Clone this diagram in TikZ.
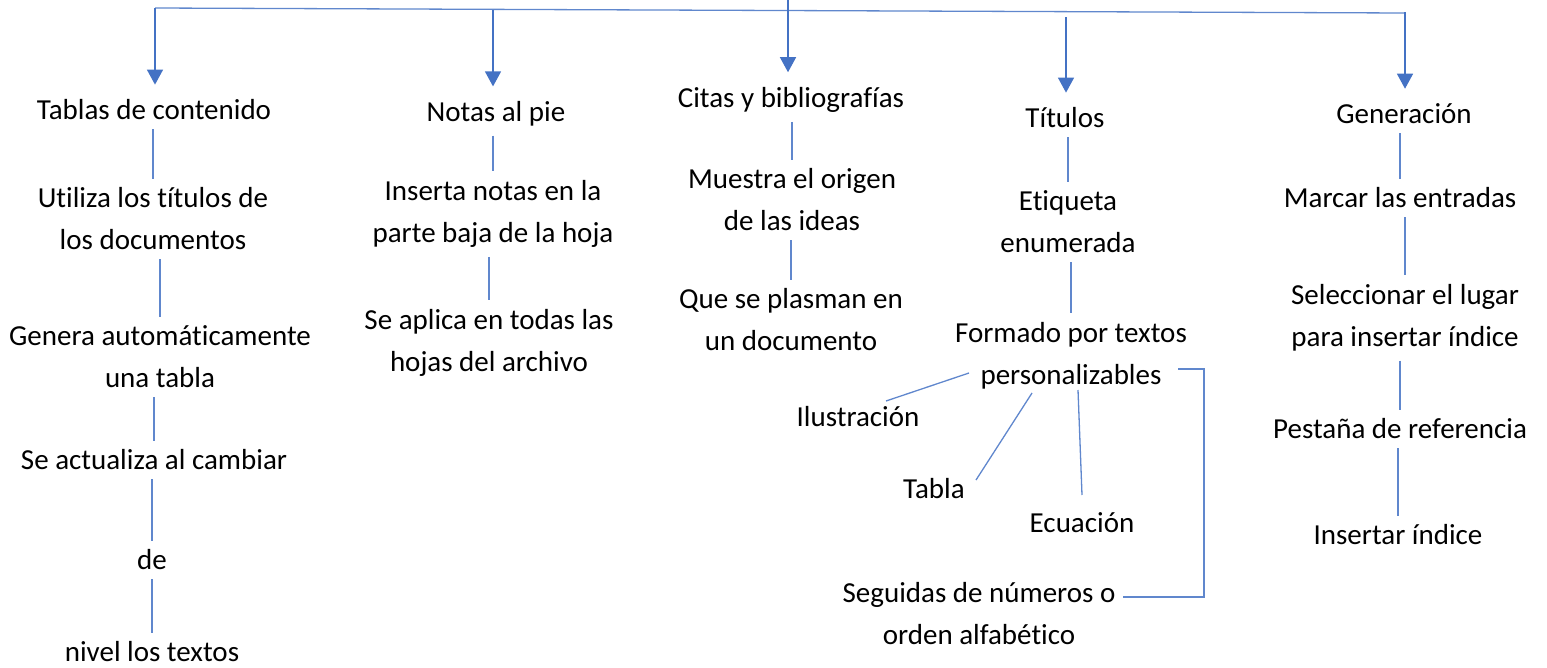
\documentclass[tikz,border=0pt]{standalone}
\usepackage{fontspec}
\setmainfont{Carlito}[RawFeature={-liga}]
\usetikzlibrary{positioning, arrows.meta}
\definecolor{lineblue}{HTML}{4472C4}

\begin{document}
\begin{tikzpicture}[x=1pt, y=-1pt,
		txt/.style={align=center, inner sep=5pt, font=\fontsize{29}{42}\selectfont},
		link/.style={draw=lineblue!85, line width=1.3pt},
		stem/.style={link, shorten <=4pt, shorten >=4pt},
		branch/.style={draw=lineblue, line width=1.3pt, shorten >=10pt, -{Triangle[length=15pt, width=16pt]}},
	]
	\useasboundingbox (0,0) rectangle (1547,667);

	% tablas de contenido
	\node[txt] (tab) at (154,110) {Tablas de contenido};
	\node[txt] (uti) at (153,219) {Utiliza los títulos de\\los documentos};
	\node[txt] (gen) at (160,357) {Genera automáticamente\\una tabla};
	\node[txt] (act) at (154,460) {Se actualiza al cambiar};
	\node[txt] (de) at (152,560) {de};
	\node[txt] (niv) at (152,652) {nivel los textos};

	% notas al pie
	\node[txt] (not) at (496,114) {Notas al pie};
	\node[txt] (ins) at (493,214) {Inserta notas en la\\parte baja de la hoja};
	\node[txt] (apl) at (489,343) {Se aplica en todas las\\hojas del archivo};

	% citas
	\node[txt] (cit) at (791,100) {Citas y bibliografías};
	\node[txt] (mue) at (792,200) {Muestra el origen\\de las ideas};
	\node[txt] (que) at (791,320) {Que se plasman en\\un documento};

	% titulos
	\node[txt] (tit) at (1065,118) {Títulos};
	\node[txt] (eti) at (1068,222) {Etiqueta\\enumerada};
	\node[txt] (for) at (1071,356) {Formado por textos\\personalizables};
	\node[txt] (ilu) at (858,417) {Ilustración};
	\node[txt] (tabla) at (934,489) {Tabla};
	\node[txt] (ecu) at (1082,523) {Ecuación};
	\node[txt] (seg) at (979,614) {Seguidas de números o\\orden alfabético};

	% generacion
	\node[txt] (gnr) at (1404,114) {Generación};
	\node[txt] (mar) at (1400,198) {Marcar las entradas};
	\node[txt] (sel) at (1405,318) {Seleccionar el lugar\\para insertar índice};
	\node[txt] (pes) at (1400,429) {Pestaña de referencia};
	\node[txt] (ist) at (1398,535) {Insertar índice};

	% top bar
	\coordinate (b1) at (155,8);
	\coordinate (b2) at (493,10);
	\coordinate (hub) at (788,0);
	\coordinate (b4) at (1066,17);
	\coordinate (b5) at (1405,12);
	\draw[link] (b1) -- (1405,13);

	\foreach \i/\j in {b1/tab, b2/not, hub/cit, b4/tit, b5/gnr}
		\draw[branch] (\i) -- (\i |- \j.north);

	\foreach \i/\j in {tab/uti, uti/gen, gen/act, act/de, de/niv, not/ins, ins/apl, cit/mue, mue/que, tit/eti, eti/for, gnr/mar, mar/sel, sel/pes, pes/ist}
		\draw[stem] (\i.south -| \j) -- (\j.north);

	\draw[link] ([xshift=-102pt, yshift=-17pt]for.center) -- ([xshift=28pt, yshift=16pt]ilu.center);
	\draw[link] ([xshift=-39pt, yshift=-37pt]for.center) -- ([xshift=42pt, yshift=9pt]tabla.center);
	\draw[link] ([xshift=7pt, yshift=-34pt]for.center) -- ([yshift=28pt]ecu.center);
	\draw[link] ([xshift=107pt, yshift=-13pt]for.center) -- ++(26,0) |- ([xshift=144pt, yshift=17pt]seg.center);

\end{tikzpicture}
\end{document}
